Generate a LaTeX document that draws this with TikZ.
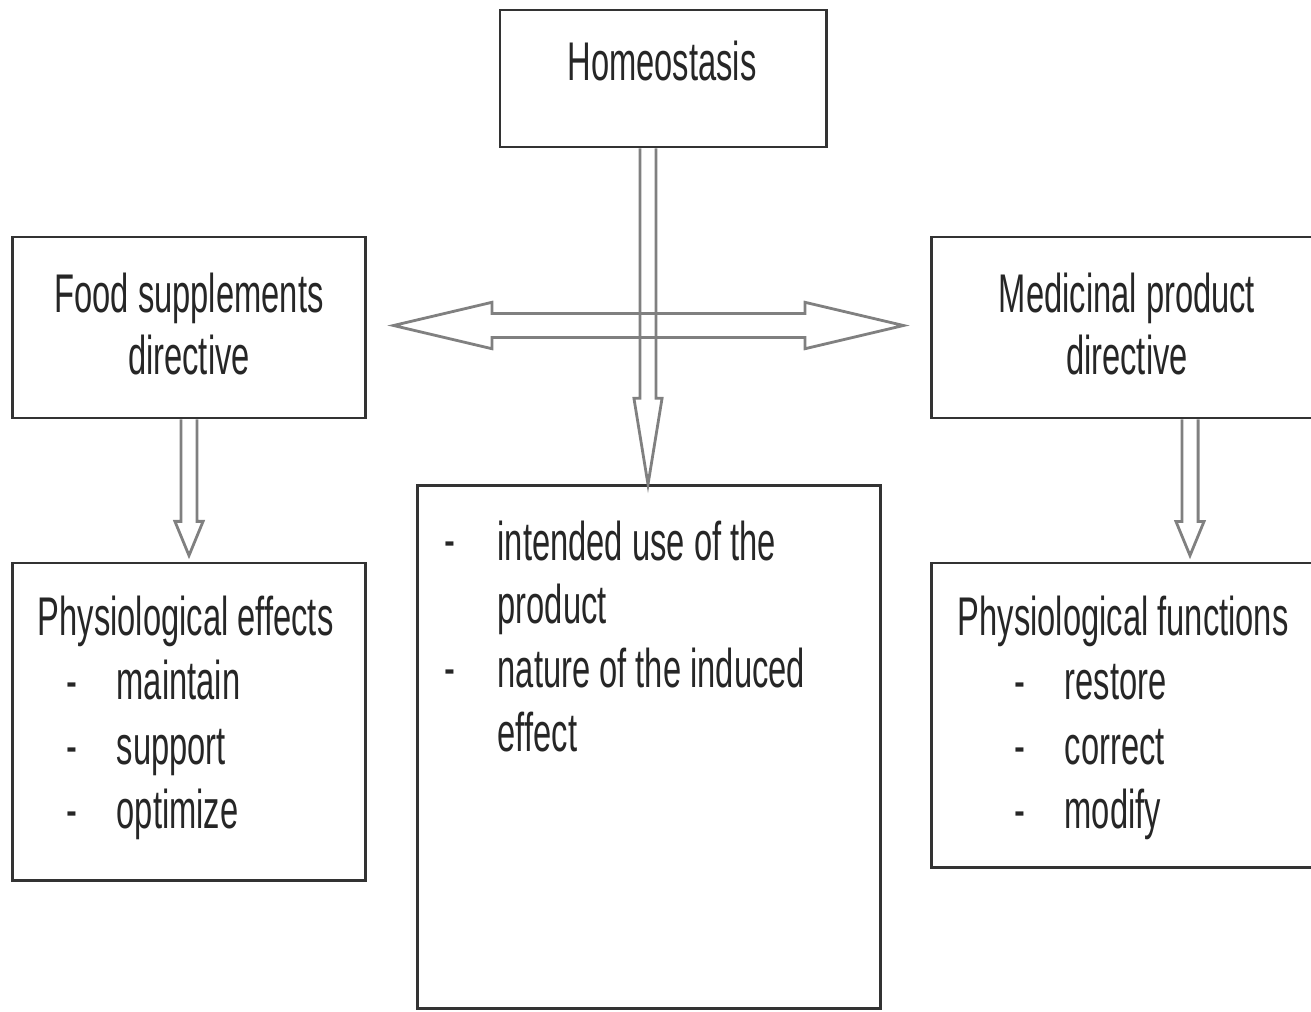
\documentclass[tikz,border=0pt]{standalone}
\usepackage{fontspec}
\setmainfont{Liberation Sans}[FakeStretch=0.6]
\usetikzlibrary{calc}

% hollow block arrows: start, tip, head length
\newcommand\hollowdown[3]{%
  \draw[blockarrow] let \p1=(#1), \p2=(#2) in
    (\x1-2.3pt,\y1) -- (\x1-2.3pt,\y2+#3) -- (\x1-4pt,\y2+#3) -- (\x1,\y2)
    -- (\x1+4pt,\y2+#3) -- (\x1+2.3pt,\y2+#3) -- (\x1+2.3pt,\y1);}
\newcommand\hollowboth[2]{%
  \draw[blockarrow] let \p1=(#1), \p2=(#2) in
    (\x1,\y1) -- (\x1+28pt,\y1+6.6pt) -- (\x1+28pt,\y1+3.4pt) -- (\x2-28pt,\y1+3.4pt)
    -- (\x2-28pt,\y1+6.6pt) -- (\x2,\y1) -- (\x2-28pt,\y1-6.6pt) -- (\x2-28pt,\y1-3.4pt)
    -- (\x1+28pt,\y1-3.4pt) -- (\x1+28pt,\y1-6.6pt) -- cycle;}
\newcommand\dashitem[1]{\makebox[0.5cm][l]{-}#1}

\begin{document}
\begin{tikzpicture}[x=0.01cm,y=-0.01cm,
    box/.style={draw=black!80,line width=0.8pt,inner sep=0pt},
    txt/.style={font=\fontsize{15.5}{17.6}\selectfont,text=black!85,inner sep=0pt},
    blockarrow/.style={draw=black!50,line width=0.8pt}]
  \useasboundingbox (0,0) rectangle (1311,1011);

  \node[box,minimum width=3.26cm,minimum height=1.37cm] (homeo) at (663,78.5) {};
  \node[box,minimum width=3.52cm,minimum height=1.81cm] (food) at (189,327.5) {};
  \node[box,minimum width=3.88cm,minimum height=1.81cm] (medic) at (1126,327.5) {};
  \node[box,minimum width=3.52cm,minimum height=3.17cm] (effects) at (189,721.5) {};
  \node[box,minimum width=4.62cm,minimum height=5.22cm] (mid) at (649,747) {};
  \node[box,minimum width=3.88cm,minimum height=3.04cm] (funcs) at (1126,715) {};

  \node[txt,anchor=base] (homeotxt) at (662,80) {Homeostasis};
  \node[txt,anchor=base,align=center] (foodtxt) at (189,374) {Food supplements\\directive};
  \node[txt,anchor=base,align=center] (medictxt) at (1127,374) {Medicinal product\\directive};

  \node[txt,anchor=base west] (effectstxt) at (37,635) {Physiological effects};
  \foreach \w [count=\i] in {maintain,support,optimize}
    \node[txt,anchor=base west] (eff\i) at (66,635+\i*64.5) {\dashitem{\w}};
  \node[txt,anchor=base west] (funcstxt) at (957,635) {Physiological functions};
  \foreach \w [count=\i] in {restore,correct,modify}
    \node[txt,anchor=base west] (fun\i) at (1014,635+\i*64.5) {\dashitem{\w}};

  \node[txt,anchor=base west,align=left,font=\fontsize{15.5}{18.1}\selectfont] (midtxt) at (497,751)
    {intended use of the\\product\\nature of the induced\\effect};
  \node[txt,anchor=base west] (dash1) at (444,558) {-};
  \node[txt,anchor=base west] (dash2) at (444,686) {-};

  \hollowboth{$(food.east)+(27,-2)$}{$(medic.west)+(-27,-2)$}
  \hollowdown{$(homeo.south)+(-15,0)$}{mid.north}{24.5pt}
  \hollowdown{food.south}{$(effects.north)+(0,-6)$}{9.7pt}
  \hollowdown{$(medic.south)+(64,0)$}{$(funcs.north)+(64,-6)$}{9.7pt}
\end{tikzpicture}
\end{document}
